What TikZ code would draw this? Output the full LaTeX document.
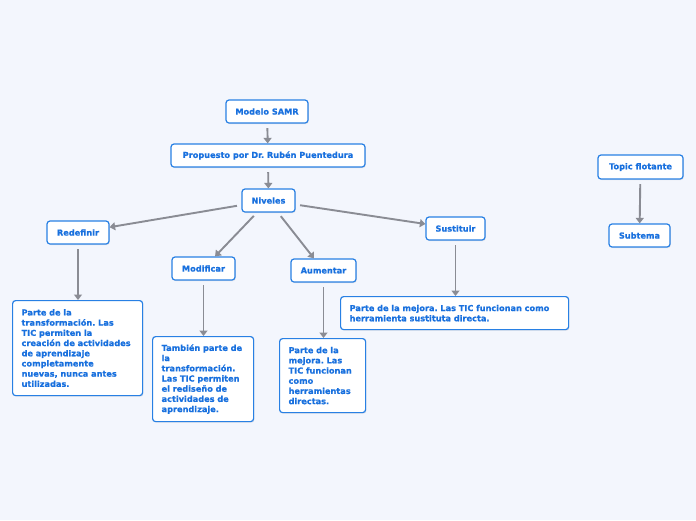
\documentclass[tikz,border=0pt]{standalone}
\usepackage{fontspec}
\newfontfamily\dvfont{DejaVu Sans}[BoldFeatures={FakeBold=0.8}]
\usetikzlibrary{arrows.meta,shadows}
\definecolor{bgc}{RGB}{243,246,253}
\definecolor{bord}{RGB}{40,128,228}
\definecolor{txt}{RGB}{24,112,222}
\definecolor{arr}{RGB}{138,140,148}
\frenchspacing
\begin{document}
\begin{tikzpicture}[x=1pt,y=-1pt,
  box/.style={draw=bord, line width=1.2pt, fill=white, rounded corners=3pt,
    text=txt, font=\dvfont\bfseries\fontsize{8.2}{10.2}\selectfont, inner sep=0pt,
    drop shadow={shadow xshift=0.8pt, shadow yshift=-1pt, opacity=0.18}},
  tbox/.style={box, align=left, inner xsep=9pt, inner ysep=0pt, anchor=north west},
  conn/.style={draw=arr, line width=1.9pt, shorten <=4.5pt,
    -{Triangle[width=8pt,length=5.5pt]}}
]
\fill[bgc] (0,0) rectangle (696,520);
\useasboundingbox (0,0) rectangle (696,520);

\node[box, minimum width=82pt, minimum height=23pt] (msamr) at (267,111.5) {Modelo SAMR};
\node[box, minimum width=194pt, minimum height=23pt] (prop) at (268,155.5) {Propuesto por Dr. Rubén Puentedura};
\node[box, minimum width=53pt, minimum height=23pt] (niv) at (268.5,200.5) {Niveles};
\node[box, minimum width=62pt, minimum height=23pt] (red) at (78,232.5) {Redefinir};
\node[box, minimum width=63pt, minimum height=23pt] (mod) at (203.5,268.5) {Modificar};
\node[box, minimum width=65pt, minimum height=23pt] (aum) at (323.5,270.5) {Aumentar};
\node[box, minimum width=59pt, minimum height=23pt] (sus) at (455.5,228.5) {Sustituir};
\node[box, minimum width=85pt, minimum height=24pt] (topic) at (640.5,167) {Topic flotante};
\node[box, minimum width=61pt, minimum height=23pt] (sub) at (639.5,235.5) {Subtema};

\node[tbox, text width=112pt, minimum height=95pt] (redt) at (12,300)
  {Parte de la\\transformación. Las\\TIC permiten la\\creación de actividades\\de aprendizaje\\completamente\\nuevas, nunca antes\\utilizadas.};
\node[tbox, text width=83pt, minimum height=85pt] (modt) at (152,336)
  {También parte de\\la\\transformación.\\Las TIC permiten\\el rediseño de\\actividades de\\aprendizaje.};
\node[tbox, text width=68pt, minimum height=74pt] (aumt) at (279,338)
  {Parte de la\\mejora. Las\\TIC funcionan\\como\\herramientas\\directas.};
\node[tbox, text width=210pt, minimum height=33pt] (sust) at (340,296)
  {Parte de la mejora. Las TIC funcionan como\\herramienta sustituta directa.};

\draw[conn] (msamr) -- (prop);
\draw[conn] (prop) -- (niv);
\draw[conn] (niv) -- (red);
\draw[conn] (niv) -- (mod);
\draw[conn] (niv) -- (aum);
\draw[conn] (niv) -- (sus);
\draw[conn] (red.south) -- (red.south |- redt.north);
\draw[conn] (mod.south) -- (mod.south |- modt.north);
\draw[conn] (aum.south) -- (aum.south |- aumt.north);
\draw[conn] (sus.south) -- (sus.south |- sust.north);
\draw[conn] (topic) -- (sub);
\end{tikzpicture}
\end{document}
